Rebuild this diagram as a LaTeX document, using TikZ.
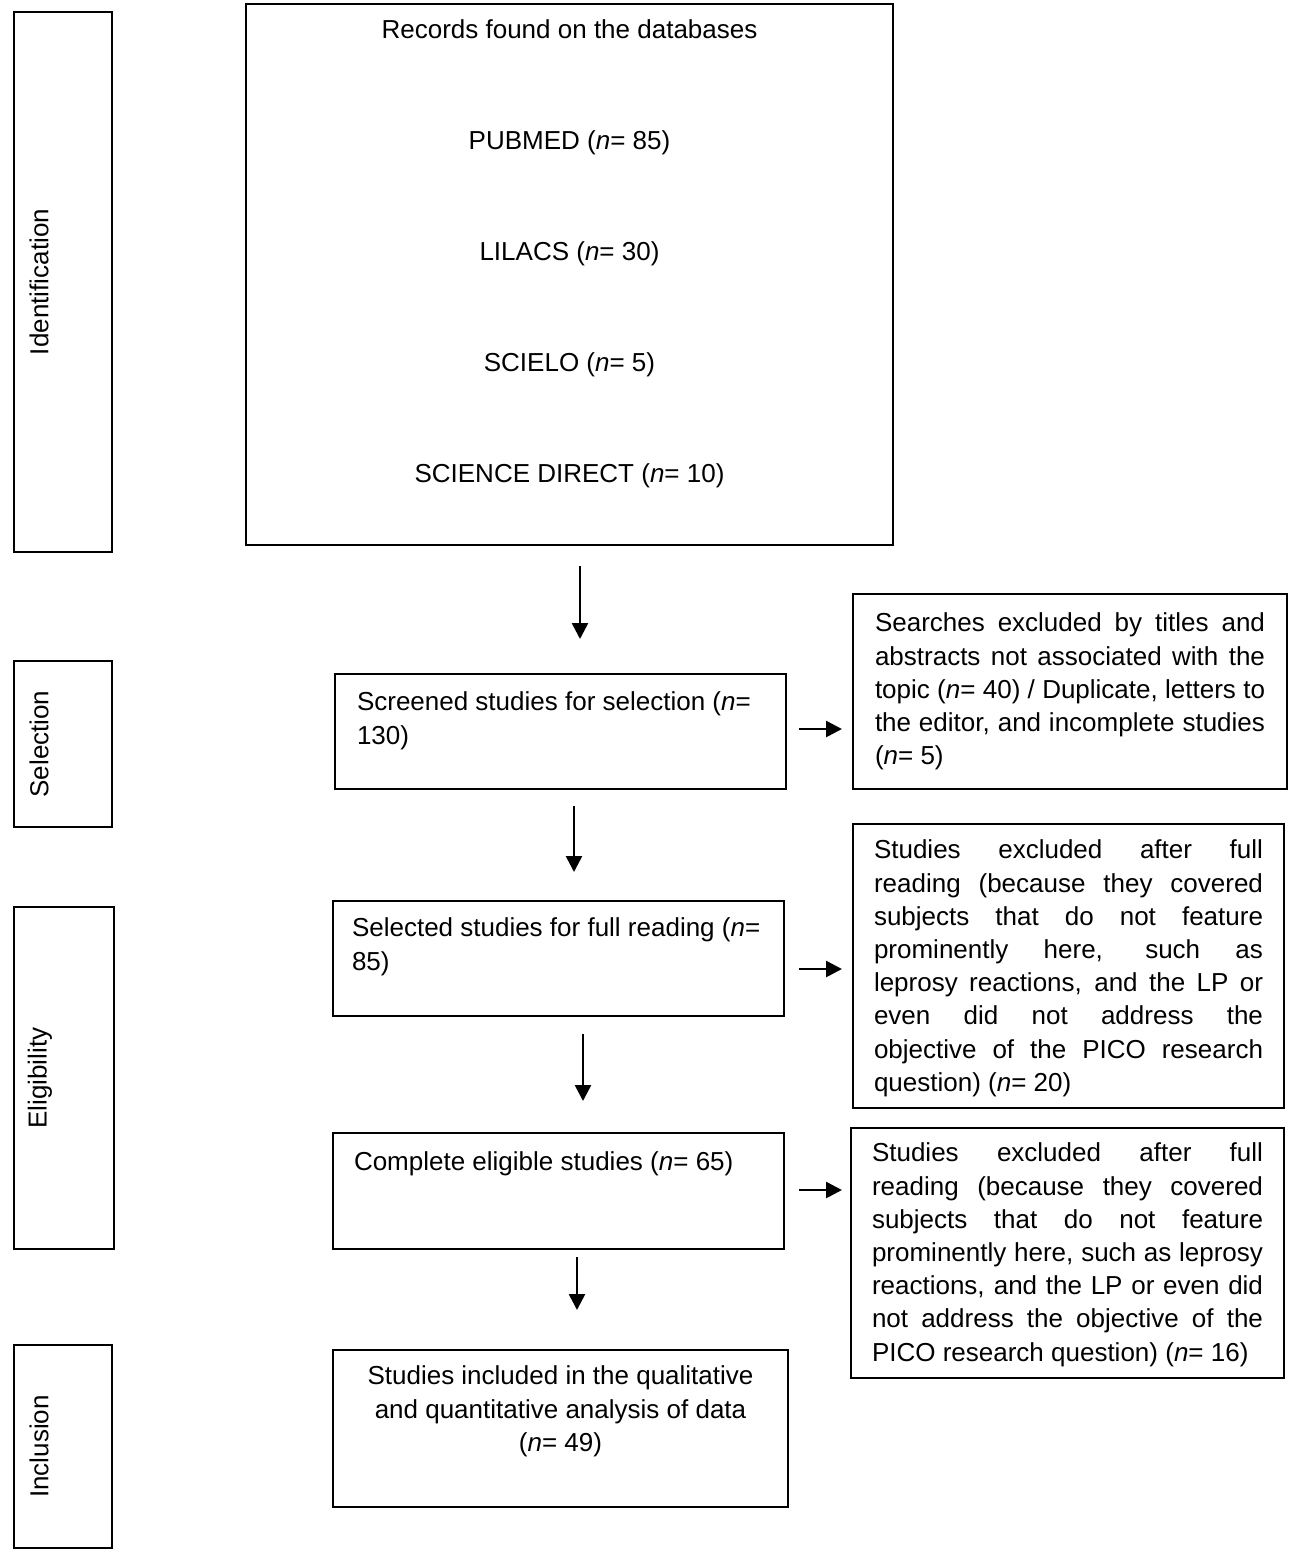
\documentclass[tikz,border=0pt]{standalone}
\usepackage{fontspec}
\setmainfont{Liberation Sans}
\usepackage{graphicx}
\usetikzlibrary{arrows.meta}
\tikzset{
  box_n/.style = {draw=black, line width=1pt, inner sep=0pt,
    font=\fontsize{13}{16.6}\selectfont},
  phase_n/.style = {box_n, minimum width=49pt},
  stage_n/.style = {box_n, minimum width=225.5pt, minimum height=57.5pt},
  flow/.style = {->, line width=1.3pt}}

\begin{document}
\begin{tikzpicture}[x=0.5pt,y=-0.5pt,>={Triangle[width=8pt,length=8pt]}]
\useasboundingbox (0,0) rectangle (1299,1555);

% phases
\node [phase_n, minimum height=270pt] (ident) at (63,282) {\rotatebox{90}{Identification}\kern24pt};
\node [phase_n, minimum height=83pt] (sel) at (63,744) {\rotatebox{90}{Selection}\kern24pt};
\node [phase_n, minimum width=50pt, minimum height=171pt] (elig) at (64,1078) {\rotatebox{90}{Eligibility}\kern24pt};
\node [phase_n, minimum height=101.5pt] (incl) at (63,1446.5) {\rotatebox{90}{Inclusion}\kern24pt};

% main column
\node [box_n, minimum width=323.5pt, minimum height=270.5pt] (records) at (569.5,274.5)
  {\parbox[c][254.5pt][t]{300pt}{\centering Records found on the databases\\[38.9pt]
   PUBMED (\textit{n}= 85)\\[38.9pt] LILACS (\textit{n}= 30)\\[38.9pt]
   SCIELO (\textit{n}= 5)\\[38.9pt] SCIENCE DIRECT (\textit{n}= 10)}};
\node [stage_n] (screened) at (560.5,731.5)
  {\parbox[c][39.5pt][t]{203.5pt}{\raggedright Screened studies for selection (\textit{n}=\\130)}};
\node [stage_n] (selected) at (558.5,958.5)
  {\parbox[c][40.5pt][t]{206.5pt}{\raggedright Selected studies for full reading (\textit{n}=\\85)}};
\node [stage_n, minimum height=58pt] (complete) at (558.5,1191)
  {\parbox[c][39pt][t]{204.5pt}{\raggedright Complete eligible studies (\textit{n}= 65)}};
\node [box_n, minimum width=227.5pt, minimum height=78.5pt] (included) at (560.5,1428.5)
  {\parbox[c][62.5pt][t]{207.5pt}{\centering Studies included in the qualitative\\
   and quantitative analysis of data\\ (\textit{n}= 49)}};

% exclusions
\node [box_n, minimum width=217pt, minimum height=97.5pt] (excl1) at (1070,691.5)
  {\parbox[c][78.5pt][t]{195pt}{\tolerance=10000 Searches excluded by titles and\linebreak
   abstracts not associated with the\linebreak topic (\textit{n}= 40) / Duplicate, letters to\linebreak
   the editor, and incomplete studies\linebreak (\textit{n}= 5)}};
\node [box_n, minimum width=215.5pt, minimum height=142pt] (excl2) at (1068.5,966)
  {\parbox[c][126pt][t]{194.5pt}{\tolerance=10000 Studies excluded after full\linebreak
   reading (because they covered\linebreak subjects that do not feature\linebreak
   prominently here, such as\linebreak leprosy reactions, and the LP or\linebreak
   even did not address the\linebreak objective of the PICO research\linebreak
   question) (\textit{n}= 20)}};
\node [box_n, minimum width=216.5pt, minimum height=125pt] (excl3) at (1067.5,1253)
  {\parbox[c][110pt][t]{195.5pt}{\tolerance=10000 Studies excluded after full\linebreak
   reading (because they covered\linebreak subjects that do not feature\linebreak
   prominently here, such as leprosy\linebreak reactions, and the LP or even did\linebreak
   not address the objective of the\linebreak PICO research question) (\textit{n}= 16)}};

% arrows
\draw [flow] ([xshift=5.25pt,yshift=-10pt]records.south) -- ([xshift=9.75pt,yshift=17pt]screened.north);
\draw [flow] ([xshift=6.75pt,yshift=-8pt]screened.south) -- ([xshift=7.75pt,yshift=14pt]selected.north);
\draw [flow] ([xshift=12.25pt,yshift=-8.5pt]selected.south) -- ([xshift=12.25pt,yshift=15.5pt]complete.north);
\draw [flow] ([xshift=9.25pt,yshift=-3.5pt]complete.south) -- ([xshift=8.25pt,yshift=19.5pt]included.north);
\draw [flow] ([xshift=6pt,yshift=1.25pt]screened.east) -- ([xshift=-5pt,yshift=-18.75pt]excl1.west);
\draw [flow] ([xshift=7pt,yshift=-5.25pt]selected.east) -- ([xshift=-5pt,yshift=-1.5pt]excl2.west);
\draw [flow] ([xshift=7pt,yshift=0.5pt]complete.east) -- ([xshift=-4pt,yshift=31.5pt]excl3.west);
\end{tikzpicture}
\end{document}
